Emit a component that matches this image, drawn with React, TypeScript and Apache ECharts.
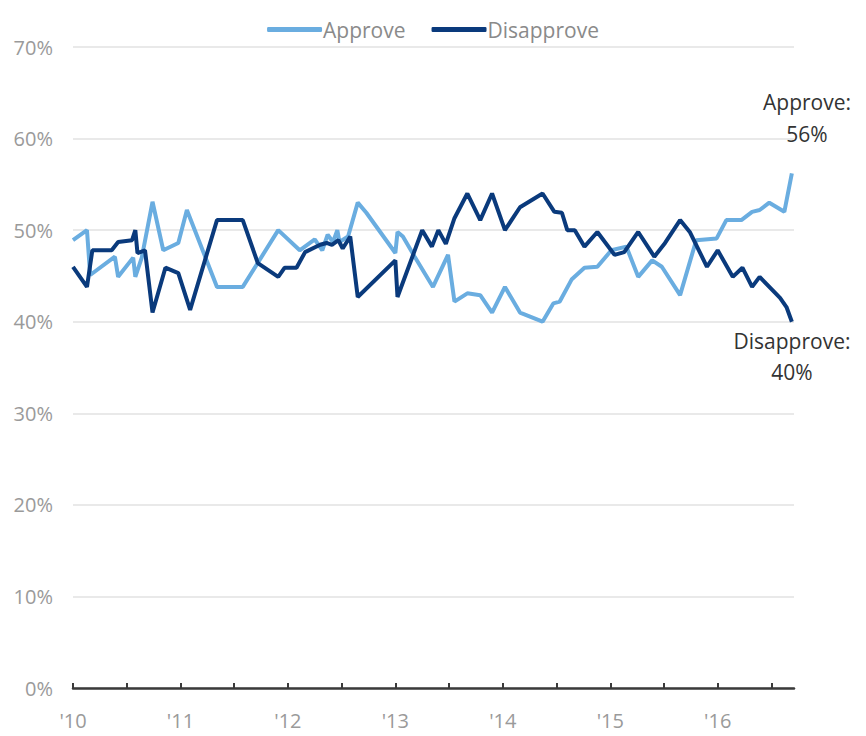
import React, { useEffect, useRef } from "react";
import * as echarts from "echarts";

const approveX = [2010.0, 2010.13, 2010.16, 2010.39, 2010.42, 2010.56, 2010.58, 2010.64, 2010.74, 2010.84, 2010.98, 2011.06, 2011.34, 2011.58, 2011.91, 2012.11, 2012.25, 2012.32, 2012.37, 2012.42, 2012.46, 2012.48, 2012.56, 2012.65, 2012.73, 2013.0, 2013.02, 2013.07, 2013.18, 2013.35, 2013.49, 2013.55, 2013.67, 2013.79, 2013.9, 2014.02, 2014.16, 2014.37, 2014.47, 2014.53, 2014.64, 2014.76, 2014.88, 2015.01, 2015.15, 2015.26, 2015.39, 2015.48, 2015.65, 2015.8, 2015.99, 2016.08, 2016.22, 2016.32, 2016.39, 2016.48, 2016.62, 2016.69];
const approveY = [48.9, 50, 45.1, 47.1, 44.9, 47.0, 44.9, 47.0, 53.1, 47.8, 48.6, 52.2, 43.8, 43.8, 50, 47.8, 49, 47.8, 49.5, 48.7, 50, 48.7, 49.3, 53, 51.9, 47.5, 49.8, 49.3, 47.1, 43.8, 47.3, 42.2, 43.1, 42.9, 41, 43.8, 41, 40, 42, 42.2, 44.6, 45.9, 46, 47.8, 48.2, 44.9, 46.7, 46, 42.9, 48.9, 49.1, 51.1, 51.1, 52, 52.2, 53, 52, 56.2];

const disapproveX = [2010.0, 2010.13, 2010.18, 2010.36, 2010.42, 2010.55, 2010.58, 2010.6, 2010.67, 2010.74, 2010.86, 2010.98, 2011.09, 2011.34, 2011.58, 2011.72, 2011.91, 2011.97, 2012.08, 2012.16, 2012.3, 2012.36, 2012.41, 2012.47, 2012.51, 2012.58, 2012.65, 2013.0, 2013.02, 2013.25, 2013.34, 2013.4, 2013.47, 2013.55, 2013.67, 2013.79, 2013.9, 2014.02, 2014.16, 2014.37, 2014.48, 2014.55, 2014.6, 2014.67, 2014.76, 2014.88, 2015.04, 2015.13, 2015.26, 2015.41, 2015.51, 2015.65, 2015.74, 2015.9, 2016.0, 2016.14, 2016.23, 2016.32, 2016.39, 2016.58, 2016.64, 2016.69];
const disapproveY = [46, 43.8, 47.8, 47.8, 48.7, 48.9, 50, 47.5, 47.8, 41, 45.9, 45.3, 41.3, 51.1, 51.1, 46.4, 44.9, 45.9, 45.9, 47.6, 48.4, 48.6, 48.4, 48.9, 48.0, 49.3, 42.7, 46.7, 42.7, 50, 48.2, 50, 48.5, 51.3, 54, 51.1, 54, 50, 52.5, 54, 52, 51.9, 50, 50, 48.2, 49.8, 47.3, 47.6, 49.8, 47.1, 48.6, 51.1, 49.8, 46, 47.8, 44.9, 45.9, 43.8, 44.9, 42.6, 41.6, 40];

const seriesNames = ["Approve", "Disapprove"];
const yearLabels = ["'10", "'11", "'12", "'13", "'14", "'15", "'16"];
const endNotes = ["Approve:\n56%", "Disapprove:\n40%"];

const LIGHT = "#6aade0";
const DARK = "#0a3a7c";
const FONT = "'Open Sans', 'Noto Sans', sans-serif";

export default function App() {
  const ref = useRef<HTMLDivElement>(null);
  useEffect(() => {
    document.body.style.margin = "0";
    if (!ref.current) return;
    const chart = echarts.init(ref.current, null, { renderer: "svg" });
    const zip = (xs: number[], ys: number[]) => xs.map((x, i) => [x, ys[i]]);
    chart.setOption({
      animation: false,
      textStyle: { fontFamily: FONT },
      legend: {
        top: 14,
        left: "center",
        itemWidth: 55,
        itemHeight: 5,
        itemGap: 26,
        textStyle: { color: "#8a8a8a", fontSize: 21, fontFamily: FONT, padding: [0, 0, 0, -4] },
        data: seriesNames.map((n) => ({ name: n, icon: "roundRect" })),
      },
      grid: { left: 73, right: 72, top: 47, bottom: 48, containLabel: false },
      xAxis: {
        type: "value",
        min: 2010,
        max: 2016.71,
        interval: 0.5,
        axisLine: { show: true, lineStyle: { color: "#3a3a3a", width: 2.5 } },
        axisTick: { show: true, inside: true, length: 5, lineStyle: { color: "#3a3a3a", width: 2 } },
        splitLine: { show: false },
        axisLabel: {
          color: "#9a9a9a",
          fontSize: 20,
          margin: 22,
          fontFamily: FONT,
          showMaxLabel: false,
          formatter: (v: number) => {
            if (Math.abs(v - Math.round(v)) > 0.01) return "";
            const idx = Math.round(v) - 2010;
            return yearLabels[idx] ?? "";
          },
        },
      },
      yAxis: {
        type: "value",
        min: 0,
        max: 70,
        interval: 10,
        axisLine: { show: false },
        axisTick: { show: false },
        splitLine: { lineStyle: { color: "#e2e2e2", width: 1.5 } },
        axisLabel: { color: "#9a9a9a", fontSize: 20, margin: 20, fontFamily: FONT, formatter: "{value}%" },
      },
      series: [
        {
          name: seriesNames[0],
          type: "line",
          data: zip(approveX, approveY),
          showSymbol: false,
          lineStyle: { color: LIGHT, width: 4 },
          itemStyle: { color: LIGHT },
          z: 2,
        },
        {
          name: seriesNames[1],
          type: "line",
          data: zip(disapproveX, disapproveY),
          showSymbol: false,
          lineStyle: { color: DARK, width: 4 },
          itemStyle: { color: DARK },
          z: 3,
        },
      ],
      graphic: [
        {
          type: "text",
          x: 807,
          y: 86,
          style: { text: endNotes[0], fill: "#333", font: `21px ${FONT}`, textAlign: "center", lineHeight: 32 },
        },
        {
          type: "text",
          x: 792,
          y: 325,
          style: { text: endNotes[1], fill: "#333", font: `21px ${FONT}`, textAlign: "center", lineHeight: 31 },
        },
      ],
    });
    return () => chart.dispose();
  }, []);
  return <div ref={ref} style={{ width: 866, height: 736 }} />;
}
